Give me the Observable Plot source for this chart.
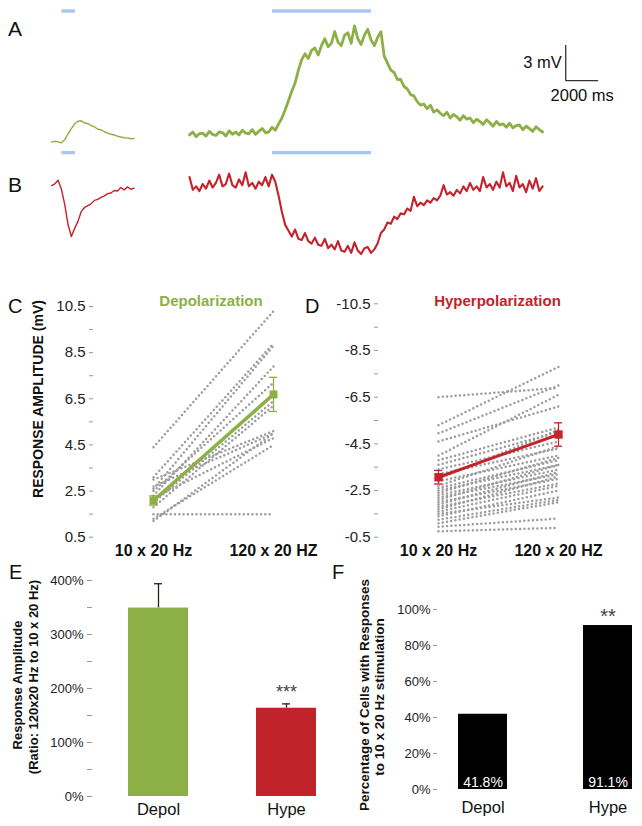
<!DOCTYPE html>
<html><head><meta charset="utf-8">
<script src="https://cdn.jsdelivr.net/npm/d3@7"></script>
<script src="https://cdn.jsdelivr.net/npm/@observablehq/plot@0.6"></script>
<style>
html,body{margin:0;padding:0;background:#fff;}
#fig{position:relative;width:642px;height:826px;overflow:hidden;font-family:"Liberation Sans",Arial,Helvetica,sans-serif;color:#111;background:#fff;}
.lbl{position:absolute;white-space:nowrap;line-height:1;}
</style></head><body><div id="fig"></div>
<script>
// ---------------- DATA ----------------
// Panels A/B: membrane potential traces (mV), one sample every 0.2 s
const sampleStep = 0.2;          // s
const smallTraceStart = -8.36;   // s (10 x 20 Hz recording)
const bigTraceStart = 0;         // s (120 x 20 Hz recording)
const greenSmallMv = [-0.57,-0.49,-0.55,-0.62,-0.37,0.15,0.58,1.01,1.22,1.26,1.09,1.01,0.84,0.75,0.54,0.49,0.32,0.21,0.11,0.04,-0.06,-0.13,-0.19,-0.2,-0.28,-0.26];
const greenBigMv = [0.05,0.3,-0.1,0.15,0.2,-0.05,0.35,0.1,0.0,0.3,0.25,-0.05,0.4,0.1,0.3,0.05,0.45,0.2,0.15,0.5,0.1,0.35,0.6,0.25,0.3,0.7,
  0.45,1.0,1.5,2.2,3.0,3.8,4.5,5.6,6.5,
  7.0,6.6,7.3,7.5,6.9,7.7,8.3,7.6,7.9,8.9,8.0,7.7,8.6,8.8,7.9,9.4,8.3,7.8,8.6,9.1,8.2,7.7,8.4,8.9,
  6.8,6.2,5.6,5.4,4.8,4.8,4.2,4.0,3.5,3.4,
  2.9,2.6,2.7,2.3,2.6,2.0,2.2,1.9,1.7,2.0,1.5,1.8,1.6,1.3,1.7,1.4,1.5,1.1,1.4,1.2,0.95,1.35,1.1,0.8,1.2,0.9,1.0,0.7,1.05,0.65,
  0.85,0.9,0.5,0.8,0.6,0.35,0.75,0.5,0.3];
const redSmallMv = [0.17,0.32,0.62,-0.17,-1.46,-3.17,-4.2,-3.5,-2.9,-2.06,-1.71,-1.55,-1.4,-1.1,-1.02,-0.85,-0.72,-0.52,-0.47,-0.25,-0.3,0.0,-0.2,0.05,-0.15,-0.05];
const redBigMv = [0.9,-0.2,0.1,-0.3,0.3,-0.1,0.6,0.0,0.4,1.1,0.1,0.3,1.2,0.2,0.0,0.7,0.2,1.3,0.1,0.4,-0.1,0.5,0.2,0.9,0.1,1.1,
  0.5,
  -0.7,-2.1,-3.2,-3.7,-4.2,-3.6,-4.4,-4.5,-3.9,-4.6,-4.8,-4.3,-4.9,-5.0,-4.4,-5.2,-4.9,-5.3,-4.6,-5.4,-5.5,-5.0,-5.6,-4.7,-5.4,-5.7,-5.2,-5.1,-5.6,-5.3,-4.8,
  -3.9,-3.6,-3.0,-3.1,-2.5,-2.7,-2.2,-2.3,-1.8,-2.0,-0.8,-1.6,-1.3,-1.5,-1.1,-1.3,-0.9,-1.1,-0.7,0.2,-0.6,-0.4,-0.7,-0.2,-0.5,0.1,-0.3,0.4,-0.2,0.1,-0.3,
  0.9,0.0,0.3,-0.2,0.5,0.0,1.3,0.1,0.4,-0.3,1.0,0.0,0.3,-0.4,0.6,-0.1,0.8,-0.3,0.1];
const stimStartS = [-7.73, 5.03];
const stimEndS = [-6.91, 11.03];
const scaleBarMs = 2000;
const scaleBarMv = 3;

// Panels C/D: per-cell response amplitude (mV)
const condLabels = ["10 x 20 Hz", "120 x 20 HZ"];
const cStart = [4.4, 3.1, 2.6, 2.3, 2.5, 2.0, 1.8, 3.0, 2.7, 2.2, 1.3, 1.2, 1.5];
const cEnd   = [10.3, 8.9, 8.8, 7.9, 7.2, 6.4, 6.2, 5.1, 5.0, 4.8, 4.5, 5.0, 1.5];
const cMean = [2.09, 6.69];
const cErr  = [0.2, 0.74];
const dStart = [-6.5,-5.3,-4.95,-4.6,-4.0,-3.8,-3.6,-3.4,-3.2,-3.0,-2.9,-2.7,-2.6,-2.5,-2.4,-2.3,-2.2,-2.1,-2.0,-1.9,-1.8,-1.7,-1.6,-1.5,-1.4,-1.25,-1.1,-0.95,-0.75];
const dEnd   = [-6.9,-7.8,-7.0,-6.1,-6.6,-5.2,-5.0,-4.6,-4.3,-5.1,-4.0,-4.4,-3.8,-3.6,-3.9,-3.4,-3.2,-3.6,-3.0,-3.3,-2.8,-3.1,-2.7,-2.2,-2.5,-2.1,-2.0,-1.3,-0.9];
const dMean = [-3.07, -4.9];
const dErr  = [0.29, 0.5];
const cMajorTicks = [0.5, 2.5, 4.5, 6.5, 8.5, 10.5];
const cMinorTicks = [1.5, 3.5, 5.5, 7.5, 9.5];
const dMajorTicks = [-0.5, -2.5, -4.5, -6.5, -8.5, -10.5];
const dMinorTicks = [-1.5, -3.5, -5.5, -7.5, -9.5];

// Panel E: ratio 120x20 / 10x20 (%)
const groupLabels = ["Depol", "Hype"];
const eRatio = [349, 163.5];
const eErrUp = [45, 8];
const eSig = ["", "***"];
const eMajorTicks = [0, 100, 200, 300, 400];
const eMinorTicks = [50, 150, 250, 350];

// Panel F: % of cells responding to 10 x 20 Hz
const fPercent = [41.8, 91.1];
const fSig = ["", "**"];
const fTicks = [0, 20, 40, 60, 80, 100];

// ---------------- STYLE / LAYOUT ----------------
const green = "#8db046", red = "#c5222b", stimBlue = "#a8c7f3", dotGray = "#9c9c9c";
const barColors = [green, "#c1232b"];
const font = '"Liberation Sans", Arial, Helvetica, sans-serif';
const fig = document.getElementById("fig");
function put(node, left, top) {
  node.style.position = "absolute"; node.style.left = left + "px"; node.style.top = top + "px";
  fig.appendChild(node);
}
function baseStyle(size) {
  return {background: "transparent", fontFamily: font, fontSize: size + "px", color: "#222", overflow: "visible"};
}
function txt(s, x, y, size, o = {}) {
  const d = document.createElement("div");
  d.className = "lbl";
  d.textContent = s;
  d.style.fontSize = size + "px";
  d.style.fontWeight = o.weight || "normal";
  d.style.color = o.color || "#111";
  d.style.left = x + "px";
  if (o.rotate) {
    d.style.top = y + "px";
    d.style.transform = "translate(-50%,-50%) rotate(-90deg)";
  } else {
    d.style.top = (y - 0.472 * size) + "px";
    if (o.anchor === "middle") d.style.transform = "translateX(-50%)";
  }
  fig.appendChild(d);
}

const series = (vals, t0) => vals.map((v, i) => ({t: t0 + i * sampleStep, v}));
const stim = stimStartS.map((s, i) => ({start: s, end: stimEndS[i]}));
const tDomain = [-189 / 16.5, (642 - 189) / 16.5];
const scaleBarAt = [{t: 22.8, v: 4.71}];

// ---- Panel A ----
const plotA = Plot.plot({
  width: 642, height: 145, margin: 0,
  x: {domain: tDomain, axis: null},
  y: {domain: [-0.857, 11.57], axis: null},
  style: baseStyle(16.5),
  marks: [
    Plot.barX(stim, {x1: "start", x2: "end", fill: stimBlue, insetTop: 9.3, insetBottom: 132.3}),
    Plot.line(series(greenSmallMv, smallTraceStart), {x: "t", y: "v", stroke: green, strokeWidth: 1.4}),
    Plot.line(series(greenBigMv, bigTraceStart), {x: "t", y: "v", stroke: green, strokeWidth: 2.8}),
    Plot.ruleX(scaleBarAt, {x: "t", y1: "v", y2: d => d.v + scaleBarMv, stroke: "#333", strokeWidth: 1.3}),
    Plot.ruleY(scaleBarAt, {y: "v", x1: "t", x2: d => d.t + scaleBarMs / 1000, stroke: "#333", strokeWidth: 1.3}),
    Plot.text(scaleBarAt, {x: "t", y: d => d.v + scaleBarMv / 2, text: () => `${scaleBarMv} mV`, textAnchor: "end", dx: -4, fill: "#111"}),
    Plot.text(scaleBarAt, {x: d => d.t + scaleBarMs / 2000, y: "v", text: () => `${scaleBarMs} ms`, dy: 15, fill: "#111"})
  ]
});
put(plotA, 0, 0);

// ---- Panel B ----
const plotB = Plot.plot({
  width: 642, height: 130, margin: 0,
  x: {domain: tDomain, axis: null},
  y: {domain: [-7.11, 4.03], axis: null},
  style: baseStyle(16),
  marks: [
    Plot.barX(stim, {x1: "start", x2: "end", fill: stimBlue, insetTop: 11, insetBottom: 115.7}),
    Plot.line(series(redSmallMv, smallTraceStart), {x: "t", y: "v", stroke: red, strokeWidth: 1.4}),
    Plot.line(series(redBigMv, bigTraceStart), {x: "t", y: "v", stroke: red, strokeWidth: 2.1})
  ]
});
put(plotB, 0, 140);

// ---- Panels C & D ----
function pairedPlot({start, end, mean, err, color, major, minor, yDomain, width, marginLeft, marginRight, marginTop, markerR, meanW}) {
  const rows = start.flatMap((s, i) => [{id: i, cond: condLabels[0], v: s}, {id: i, cond: condLabels[1], v: end[i]}]);
  const m = mean.map((v, i) => ({cond: condLabels[i], v, e: err[i]}));
  return Plot.plot({
    width, height: 275, marginLeft, marginRight, marginTop, marginBottom: 28.3,
    x: {type: "point", domain: condLabels, padding: 0.5},
    y: {domain: yDomain},
    style: baseStyle(15),
    marks: [
      Plot.axisY(major, {tickSize: 4, tickPadding: 4, tickFormat: d => d.toFixed(1), stroke: "#999", fill: "#222", label: null, line: true}),
      Plot.axisY(minor, {tickSize: 4, tickFormat: () => "", stroke: "#999", label: null}),
      Plot.axisX({tickSize: 0, tickPadding: 7, fontWeight: "bold", fontSize: 16, stroke: "#999", fill: "#111", label: null, line: true}),
      Plot.line(rows, {x: "cond", y: "v", z: "id", stroke: dotGray, strokeWidth: 2.5, strokeDasharray: "0,4.3", strokeLinecap: "round"}),
      Plot.line(m, {x: "cond", y: "v", stroke: color, strokeWidth: meanW}),
      Plot.ruleX(m, {x: "cond", y1: d => d.v - d.e, y2: d => d.v + d.e, stroke: color, strokeWidth: 1.3}),
      Plot.ruleY(m, {x1: "cond", x2: "cond", y: d => d.v + d.e, stroke: color, strokeWidth: 1.3, insetLeft: -4, insetRight: -4}),
      Plot.ruleY(m, {x1: "cond", x2: "cond", y: d => d.v - d.e, stroke: color, strokeWidth: 1.3, insetLeft: -4, insetRight: -4}),
      Plot.dot(m, {x: "cond", y: "v", symbol: "square", r: markerR, fill: color, stroke: "none"})
    ]
  });
}
put(pairedPlot({start: cStart, end: cEnd, mean: cMean, err: cErr, color: green, major: cMajorTicks, minor: cMinorTicks,
  yDomain: [0.5, 10.5], width: 340, marginLeft: 93, marginRight: 7, marginTop: 16, markerR: 4.5, meanW: 3.5}), 0, 290);
put(pairedPlot({start: dStart, end: dEnd, mean: dMean, err: dErr, color: red, major: dMajorTicks, minor: dMinorTicks,
  yDomain: [-0.5, -10.5], width: 322, marginLeft: 58, marginRight: 24, marginTop: 13.3, markerR: 4.7, meanW: 3}), 320, 290);

// ---- Panel E ----
const eRows = groupLabels.map((g, i) => ({cat: g, v: eRatio[i], e: eErrUp[i], color: barColors[i], sig: eSig[i]}));
const plotE = Plot.plot({
  width: 352, height: 256, marginLeft: 92, marginRight: 0, marginTop: 10, marginBottom: 30,
  x: {type: "band", domain: groupLabels, paddingInner: 0.531, paddingOuter: 0.281},
  y: {domain: [0, 400]},
  style: baseStyle(13),
  marks: [
    Plot.axisY(eMajorTicks, {tickSize: 5, tickPadding: 4, tickFormat: d => d + "%", stroke: "#999", fill: "#222", label: null, line: true}),
    Plot.axisY(eMinorTicks, {tickSize: 5, tickFormat: () => "", stroke: "#999", label: null}),
    Plot.axisX({tickSize: 0, tickPadding: 7, fontSize: 16.5, stroke: "#999", fill: "#111", label: null, line: true}),
    Plot.ruleX(eRows, {x: "cat", y1: "v", y2: d => d.v + d.e, stroke: "#222", strokeWidth: 1.3}),
    Plot.tickY(eRows, {x: "cat", y: d => d.v + d.e, stroke: "#222", strokeWidth: 1.3, insetLeft: 26, insetRight: 26}),
    Plot.barY(eRows, {x: "cat", y: "v", fill: "color"}),
    Plot.text(eRows, {x: "cat", y: d => d.v + d.e, text: "sig", dy: -11.5, fontSize: 18, fill: "#444"})
  ]
});
put(plotE, 0, 570);

// ---- Panel F ----
const fRows = groupLabels.map((g, i) => ({cat: g, v: fPercent[i], sig: fSig[i]}));
const plotF = Plot.plot({
  width: 311, height: 256, marginLeft: 95, marginRight: 0, marginTop: 39, marginBottom: 37,
  x: {type: "band", domain: groupLabels, paddingInner: 0.606, paddingOuter: 0.165},
  y: {domain: [0, 100]},
  style: baseStyle(13),
  marks: [
    Plot.axisY(fTicks, {tickSize: 4, tickPadding: 3, tickFormat: d => d + "%", stroke: "#999", fill: "#222", label: null, line: true}),
    Plot.axisX({tickSize: 0, tickPadding: 12, fontSize: 16.5, fill: "#111", label: null}),
    Plot.barY(fRows, {x: "cat", y: "v", fill: "#000"}),
    Plot.text(fRows, {x: "cat", y: () => 0, text: d => d.v.toFixed(1) + "%", dy: -7.3, fill: "#fff", fontSize: 14}),
    Plot.text(fRows, {x: "cat", y: "v", text: "sig", dy: -9, fontSize: 20, fill: "#444"})
  ]
});
put(plotF, 342, 570);

// ---- Text overlays ----
const L = 21;
txt("A", 8, 27.5, L); txt("B", 8, 184, L);
txt("C", 8, 305, 20); txt("D", 305, 305, 20);
txt("E", 9, 571, 20); txt("F", 332, 571, 20);
txt("Depolarization", 211, 300, 15, {anchor: "middle", weight: "bold", color: green});
txt("Hyperpolarization", 497.5, 300, 15, {anchor: "middle", weight: "bold", color: red});
txt("RESPONSE AMPLITUDE (mV)", 38, 399, 14, {rotate: true, weight: "bold"});
txt("Response Amplitude", 17, 685, 13, {rotate: true, weight: "bold"});
txt("(Ratio: 120x20 Hz to 10 x 20 Hz)", 33, 677, 13, {rotate: true, weight: "bold"});
txt("Percentage of Cells with Responses", 365, 695, 13.5, {rotate: true, weight: "bold"});
txt("to 10 x 20 Hz stimulation", 380, 697, 13.5, {rotate: true, weight: "bold"});
</script></body></html>
